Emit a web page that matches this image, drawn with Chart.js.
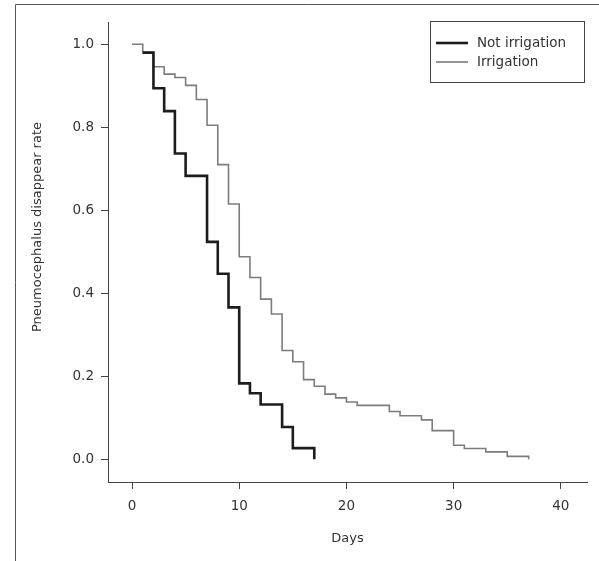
<!DOCTYPE html>
<html>
<head>
<meta charset="utf-8">
<script src="https://cdn.jsdelivr.net/npm/chart.js@4.4.0/dist/chart.umd.min.js"></script>
<style>
  body { margin: 0; background: #fff; }
  #wrap { width: 599px; height: 561px; position: relative; }
</style>
</head>
<body>
<div id="wrap"><canvas id="kmChart"></canvas></div>
<script>
// Kaplan-Meier style curves
const notIrrigationDays  = [1, 2, 3, 4, 5, 7, 8, 9, 10, 11, 12, 14, 15, 17];
const notIrrigationRates = [0.980, 0.894, 0.839, 0.737, 0.683, 0.524, 0.447, 0.366, 0.183, 0.159, 0.132, 0.078, 0.027, 0.0];

const irrigationDays  = [0, 1, 2, 3, 4, 5, 6, 7, 8, 9, 10, 11, 12, 13, 14, 15, 16, 17, 18, 19, 20, 21, 24, 25, 27, 28, 30, 31, 33, 35, 37];
const irrigationRates = [1.0, 0.980, 0.946, 0.928, 0.920, 0.901, 0.867, 0.805, 0.710, 0.615, 0.488, 0.438, 0.386, 0.350, 0.262, 0.235, 0.192, 0.176, 0.157, 0.148, 0.138, 0.130, 0.115, 0.105, 0.095, 0.069, 0.034, 0.026, 0.018, 0.007, 0.0];

const xTicks = [0, 10, 20, 30, 40];
const yTicks = [0, 0.2, 0.4, 0.6, 0.8, 1.0];

const xTitle = 'Days';
const yTitle = 'Pneumocephalus disappear rate';

const FONT = '"DejaVu Sans", sans-serif';
const AXIS = '#444';

function toPoints(xs, ys) {
  return xs.map((x, i) => ({ x: x, y: ys[i] }));
}

// frame, axis titles and boxed legend
const decorations = {
  id: 'decorations',
  afterDraw(chart) {
    const ctx = chart.ctx;
    const area = chart.chartArea;
    ctx.save();
    ctx.strokeStyle = '#555';
    ctx.lineWidth = 1;
    ctx.beginPath();
    ctx.moveTo(15.5, 561);
    ctx.lineTo(15.5, 4.5);
    ctx.lineTo(599, 4.5);
    ctx.stroke();

    ctx.fillStyle = '#333';
    ctx.font = '13px ' + FONT;
    ctx.textAlign = 'center';
    ctx.textBaseline = 'middle';
    ctx.fillText(xTitle, (area.left + area.right) / 2, 539);

    ctx.save();
    ctx.translate(38, 227);
    ctx.rotate(-Math.PI / 2);
    ctx.fillText(yTitle, 0, 0);
    ctx.restore();

    // legend box
    ctx.strokeStyle = AXIS;
    ctx.strokeRect(430.5, 21.5, 154, 61);
    ctx.textAlign = 'left';
    ctx.font = '13.5px ' + FONT;
    chart.data.datasets.forEach((ds, i) => {
      const y = 43 + i * 19;
      ctx.strokeStyle = ds.borderColor;
      ctx.lineWidth = ds.borderWidth;
      ctx.beginPath();
      ctx.moveTo(436, y);
      ctx.lineTo(468, y);
      ctx.stroke();
      ctx.fillStyle = '#333';
      ctx.fillText(ds.label, 477, y);
    });
    ctx.restore();
  }
};

new Chart(document.getElementById('kmChart'), {
  type: 'line',
  data: {
    datasets: [
      {
        label: 'Not irrigation',
        data: toPoints(notIrrigationDays, notIrrigationRates),
        borderColor: '#1c1c1c',
        borderWidth: 2.6,
        stepped: 'before',
        pointRadius: 0,
        fill: false
      },
      {
        label: 'Irrigation',
        data: toPoints(irrigationDays, irrigationRates),
        borderColor: '#7c7c7c',
        borderWidth: 1.6,
        stepped: 'before',
        pointRadius: 0,
        fill: false
      }
    ]
  },
  options: {
    responsive: true,
    maintainAspectRatio: false,
    animation: false,
    layout: { padding: { top: 22, right: 12, bottom: 0, left: 0 } },
    plugins: {
      legend: { display: false },
      tooltip: { enabled: false }
    },
    scales: {
      x: {
        type: 'linear',
        min: -2.24,
        max: 42.44,
        afterBuildTicks: s => { s.ticks = xTicks.map(v => ({ value: v })); },
        afterFit: s => { s.height = 79; },
        grid: { drawOnChartArea: false, drawTicks: true, tickLength: 7, color: AXIS },
        border: { display: true, color: AXIS },
        ticks: { padding: 9, color: '#333', font: { family: FONT, size: 13.5 }, maxRotation: 0 }
      },
      y: {
        type: 'linear',
        min: -0.0547,
        max: 1.0537,
        afterBuildTicks: s => { s.ticks = yTicks.map(v => ({ value: v })); },
        afterFit: s => { s.width = 108; },
        grid: { drawOnChartArea: false, drawTicks: true, tickLength: 7, color: AXIS },
        border: { display: true, color: AXIS },
        ticks: {
          padding: 7,
          color: '#333',
          font: { family: FONT, size: 13.5 },
          callback: v => v.toFixed(1)
        }
      }
    }
  },
  plugins: [decorations]
});
</script>
</body>
</html>
